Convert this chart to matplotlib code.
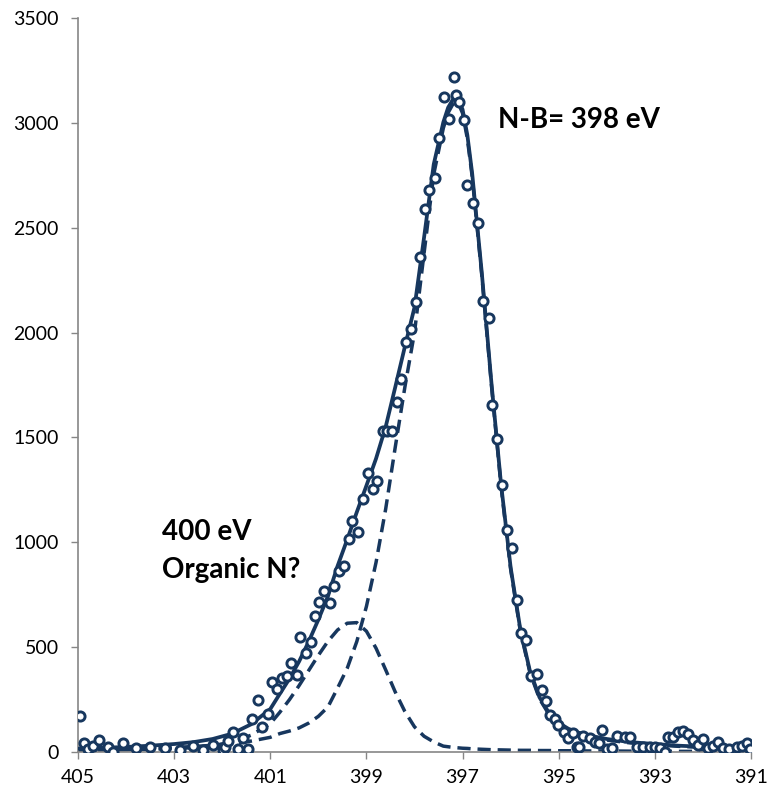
import matplotlib
matplotlib.use("Agg")
import matplotlib.pyplot as plt

# measured spectrum (binding energy in eV, counts)
be_data = [404.96, 404.88, 404.79, 404.68, 404.56, 404.37, 404.28, 404.07, 403.8, 403.5,
           403.2, 402.88, 402.6, 402.39, 402.19, 401.98, 401.94, 401.89, 401.77, 401.67,
           401.56, 401.46, 401.37, 401.25, 401.17, 401.04, 400.97, 400.87, 400.76, 400.66,
           400.57, 400.45, 400.38, 400.26, 400.16, 400.07, 399.98, 399.88, 399.76, 399.67,
           399.57, 399.47, 399.36, 399.29, 399.17, 399.08, 398.97, 398.87, 398.77, 398.66,
           398.58, 398.47, 398.37, 398.28, 398.18, 398.08, 397.97, 397.89, 397.79, 397.69,
           397.57, 397.48, 397.38, 397.28, 397.18, 397.14, 397.08, 396.97, 396.90, 396.78,
           396.68, 396.57, 396.46, 396.39, 396.28, 396.17, 396.08, 395.98, 395.87, 395.78,
           395.68, 395.58, 395.46, 395.35, 395.26, 395.18, 395.08, 395.01, 394.90, 394.80,
           394.70, 394.61, 394.57, 394.50, 394.35, 394.24, 394.16, 394.09, 394.00, 393.90,
           393.79, 393.62, 393.52, 393.38, 393.24, 393.10, 393.00, 392.89, 392.79, 392.72,
           392.62, 392.51, 392.41, 392.30, 392.20, 392.10, 391.99, 391.89, 391.78, 391.68,
           391.58, 391.45, 391.30, 391.19, 391.09, 391.02]
counts = [172, 41, 13, 29, 57, 22, 0, 41, 18, 25,
          20, 10, 30, 10, 33, 10, 25, 54, 97, 13,
          65, 13, 157, 248, 121, 180, 335, 299, 351, 362,
          423, 369, 547, 473, 526, 648, 717, 769, 712, 791,
          863, 888, 1014, 1103, 1050, 1208, 1332, 1255, 1292, 1532,
          1532, 1532, 1670, 1780, 1956, 2017, 2147, 2359, 2589, 2680,
          2735, 2929, 3124, 3018, 3217, 3133, 3101, 3013, 2703, 2616,
          2521, 2150, 2068, 1654, 1491, 1273, 1058, 974, 725, 566,
          534, 362, 372, 296, 243, 176, 157, 129, 97, 65,
          92, 25, 22, 76, 65, 49, 44, 105, 13, 18,
          76, 73, 70, 25, 22, 22, 22, 18, 1, 70,
          73, 97, 102, 86, 57, 33, 60, 18, 29, 49,
          18, 15, 22, 29, 41, 13]

# fitted curves
be_fit = [405, 404.5, 404, 403.5, 403, 402.6, 402.2, 401.8, 401.4, 401.0,
          400.8, 400.6, 400.4, 400.2, 400.0, 399.8, 399.6, 399.4, 399.2, 399.0,
          398.8, 398.6, 398.4, 398.2, 398.0, 397.8, 397.6, 397.4, 397.3, 397.2,
          397.1, 397.0, 396.9, 396.8, 396.6, 396.4, 396.2, 396.0, 395.8, 395.6,
          395.4, 395.2, 395.0, 394.8, 394.6, 394.4, 394.0, 393.5, 393.0, 392.5,
          392.0, 391.5, 391.0]
fit_nb = [9, 11, 14, 17, 22, 26, 32, 40, 52, 70,
          88, 100, 115, 138, 170, 215, 305, 399, 527, 694,
          904, 1158, 1454, 1740, 2000, 2380, 2754, 2975, 3048, 3090,
          3100, 3046, 2924, 2744, 2273, 1751, 1269, 872, 579, 380,
          254, 178, 133, 105, 87, 75, 57, 43, 34, 27,
          22, 18, 16]
fit_org = [7, 9, 10, 13, 16, 21, 30, 47, 80, 135,
           190, 250, 317, 389, 461, 528, 582, 614, 617, 576,
           495, 392, 286, 193, 120, 75, 48, 28, 25, 22,
           20, 18, 17, 15, 13, 11, 10, 9, 8, 8,
           7, 7, 6, 6, 6, 5, 5, 4, 4, 3,
           3, 3, 3]
fit_total = [16, 20, 24, 30, 38, 47, 62, 87, 132, 205,
             278, 350, 432, 527, 631, 743, 887, 1013, 1144, 1270,
             1399, 1550, 1740, 1933, 2120, 2455, 2802, 3003, 3073, 3112,
             3120, 3064, 2941, 2759, 2286, 1762, 1279, 881, 587, 388,
             261, 185, 139, 111, 93, 80, 62, 47, 38, 30,
             25, 21, 19]

xticks = [405, 403, 401, 399, 397, 395, 393, 391]
yticks = [0, 500, 1000, 1500, 2000, 2500, 3000, 3500]

navy = '#17375e'
grey = '#868686'

plt.rcParams['font.family'] = ['Lato', 'DejaVu Sans']

fig = plt.figure(figsize=(7.77, 7.93), dpi=100)
ax = fig.add_axes([0.1004, 0.0517, 0.8661, 0.9256])

ax.plot(be_fit, fit_nb, color=navy, lw=2.5, ls=(0, (3.8, 2)), zorder=2)
ax.plot(be_fit, fit_org, color=navy, lw=2.5, ls=(0, (3.8, 2)), zorder=2)
ax.plot(be_fit, fit_total, color=navy, lw=2.7, zorder=3)
ax.plot(be_data, counts, ls='none', marker='o', ms=6.6, mew=2.1,
        mec=navy, mfc='white', zorder=4)

ax.set_xlim(405, 391)
ax.set_ylim(0, 3500)
ax.set_xticks(xticks)
ax.set_yticks(yticks)
ax.tick_params(axis='both', labelsize=14, colors=grey, labelcolor='black',
               length=5, width=1)
ax.tick_params(axis='y', pad=9)
ax.tick_params(axis='x', pad=7)

for side in ['top', 'right']:
    ax.spines[side].set_visible(False)
for side in ['left', 'bottom']:
    ax.spines[side].set_color(grey)
    ax.spines[side].set_linewidth(1.2)

ax.text(396.26, 3013, 'N-B= 398 eV', fontsize=20, fontweight='bold', va='center')
ax.text(403.25, 1049, '400 eV', fontsize=20, fontweight='bold', va='center')
ax.text(403.25, 868, 'Organic N?', fontsize=20, fontweight='bold', va='center')

fig.savefig('out.png', dpi=100)
